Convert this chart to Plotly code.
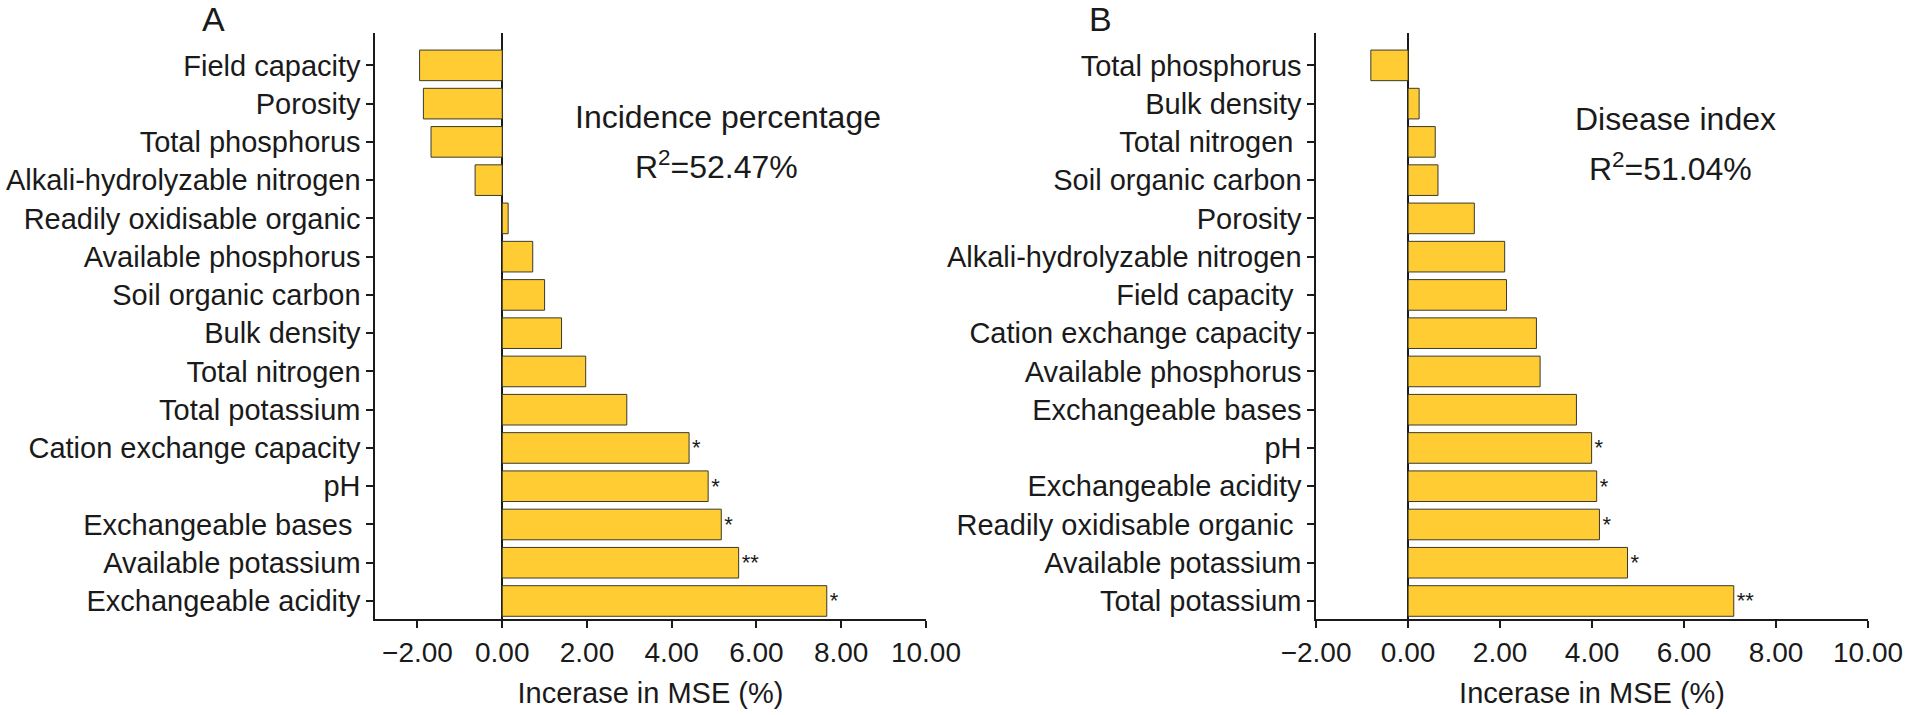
import plotly.graph_objects as go

# panel A - incidence percentage (top to bottom)
labels_a = ["Field capacity", "Porosity", "Total phosphorus",
            "Alkali-hydrolyzable nitrogen", "Readily oxidisable organic",
            "Available phosphorus", "Soil organic carbon", "Bulk density",
            "Total nitrogen", "Total potassium", "Cation exchange capacity",
            "pH", "Exchangeable bases\u00a0", "Available potassium",
            "Exchangeable acidity"]
mse_a = [-1.95, -1.86, -1.68, -0.64, 0.14, 0.72, 1.00, 1.40,
         1.97, 2.94, 4.41, 4.86, 5.17, 5.58, 7.66]
sig_a = ["", "", "", "", "", "", "", "", "", "", "*", "*", "*", "**", "*"]

# panel B - disease index (top to bottom)
labels_b = ["Total phosphorus", "Bulk density", "Total nitrogen\u00a0",
            "Soil organic carbon", "Porosity", "Alkali-hydrolyzable nitrogen",
            "Field capacity\u00a0", "Cation exchange capacity",
            "Available phosphorus", "Exchangeable bases", "pH",
            "Exchangeable acidity", "Readily oxidisable organic\u00a0",
            "Available potassium", "Total potassium"]
mse_b = [-0.81, 0.24, 0.59, 0.65, 1.44, 2.10, 2.14, 2.79,
         2.87, 3.66, 3.99, 4.10, 4.16, 4.77, 7.08]
sig_b = ["", "", "", "", "", "", "", "", "", "", "*", "*", "*", "*", "**"]

x_ticks = [-2, 0, 2, 4, 6, 8, 10]

FONT = "Liberation Sans, Arial, sans-serif"
BAR = "#FFCC33"
INK = "#1a1a1a"

fig = go.Figure()

fig.add_trace(go.Bar(
    x=mse_a, y=labels_a, orientation="h", width=0.8,
    marker=dict(color=BAR, line=dict(color="#3a3a2a", width=1)),
    text=sig_a, textposition="outside", constraintext="none",
    textfont=dict(size=22, color=INK), cliponaxis=False,
    xaxis="x", yaxis="y", showlegend=False))

fig.add_trace(go.Bar(
    x=mse_b, y=labels_b, orientation="h", width=0.8,
    marker=dict(color=BAR, line=dict(color="#3a3a2a", width=1)),
    text=sig_b, textposition="outside", constraintext="none",
    textfont=dict(size=22, color=INK), cliponaxis=False,
    xaxis="x2", yaxis="y2", showlegend=False))

xcommon = dict(
    tickvals=x_ticks, tickformat=".2f", ticks="outside", ticklen=7,
    tickwidth=1.5, tickcolor=INK, showline=True, linecolor=INK, linewidth=2,
    showgrid=False, zeroline=True, zerolinecolor=INK, zerolinewidth=1.5,
    tickfont=dict(size=28, color=INK), automargin=False,
    title=dict(text="Incerase in MSE (%)", font=dict(size=29, color=INK),
               standoff=16),
)
ycommon = dict(
    type="category", ticks="outside", ticklen=7, tickwidth=1.5,
    tickcolor=INK, showline=True, linecolor=INK, linewidth=1.5,
    showgrid=False, tickfont=dict(size=29, color=INK), automargin=False,
    range=[14.47, -0.845],
)

fig.update_layout(
    width=1906, height=715,
    margin=dict(l=0, r=0, t=0, b=0),
    paper_bgcolor="white", plot_bgcolor="white",
    font=dict(family=FONT, color=INK),
    bargap=0.2,
    xaxis=dict(domain=[0.1968, 0.4858], range=[-3, 10], anchor="y", **xcommon),
    yaxis=dict(domain=[0.1343, 0.9538], anchor="x",
               categoryorder="array", categoryarray=labels_a, **ycommon),
    xaxis2=dict(domain=[0.6905, 0.9801], range=[-2, 10], anchor="y2", **xcommon),
    yaxis2=dict(domain=[0.1343, 0.9538], anchor="x2",
                categoryorder="array", categoryarray=labels_b, **ycommon),
)

notes = [
    ("A", 0.1118, 0.9734, 34),
    ("B", 0.5776, 0.9734, 34),
    ("Incidence percentage", 0.382, 0.8364, 32),
    ("R<sup>2</sup>=52.47%", 0.3757, 0.769, 32),
    ("Disease index", 0.8793, 0.8336, 32),
    ("R<sup>2</sup>=51.04%", 0.8767, 0.7664, 32),
]
for txt, xx, yy, sz in notes:
    fig.add_annotation(text=txt, x=xx, y=yy, xref="paper", yref="paper",
                       xanchor="center", yanchor="middle", showarrow=False,
                       font=dict(size=sz, color=INK, family=FONT))

# drop the default page margin so the figure sits at the window's corner
fig.write_html("out.html",
               config={"displayModeBar": False},
               post_script="document.body.style.margin='0';"
                           "document.body.style.overflow='hidden';")
